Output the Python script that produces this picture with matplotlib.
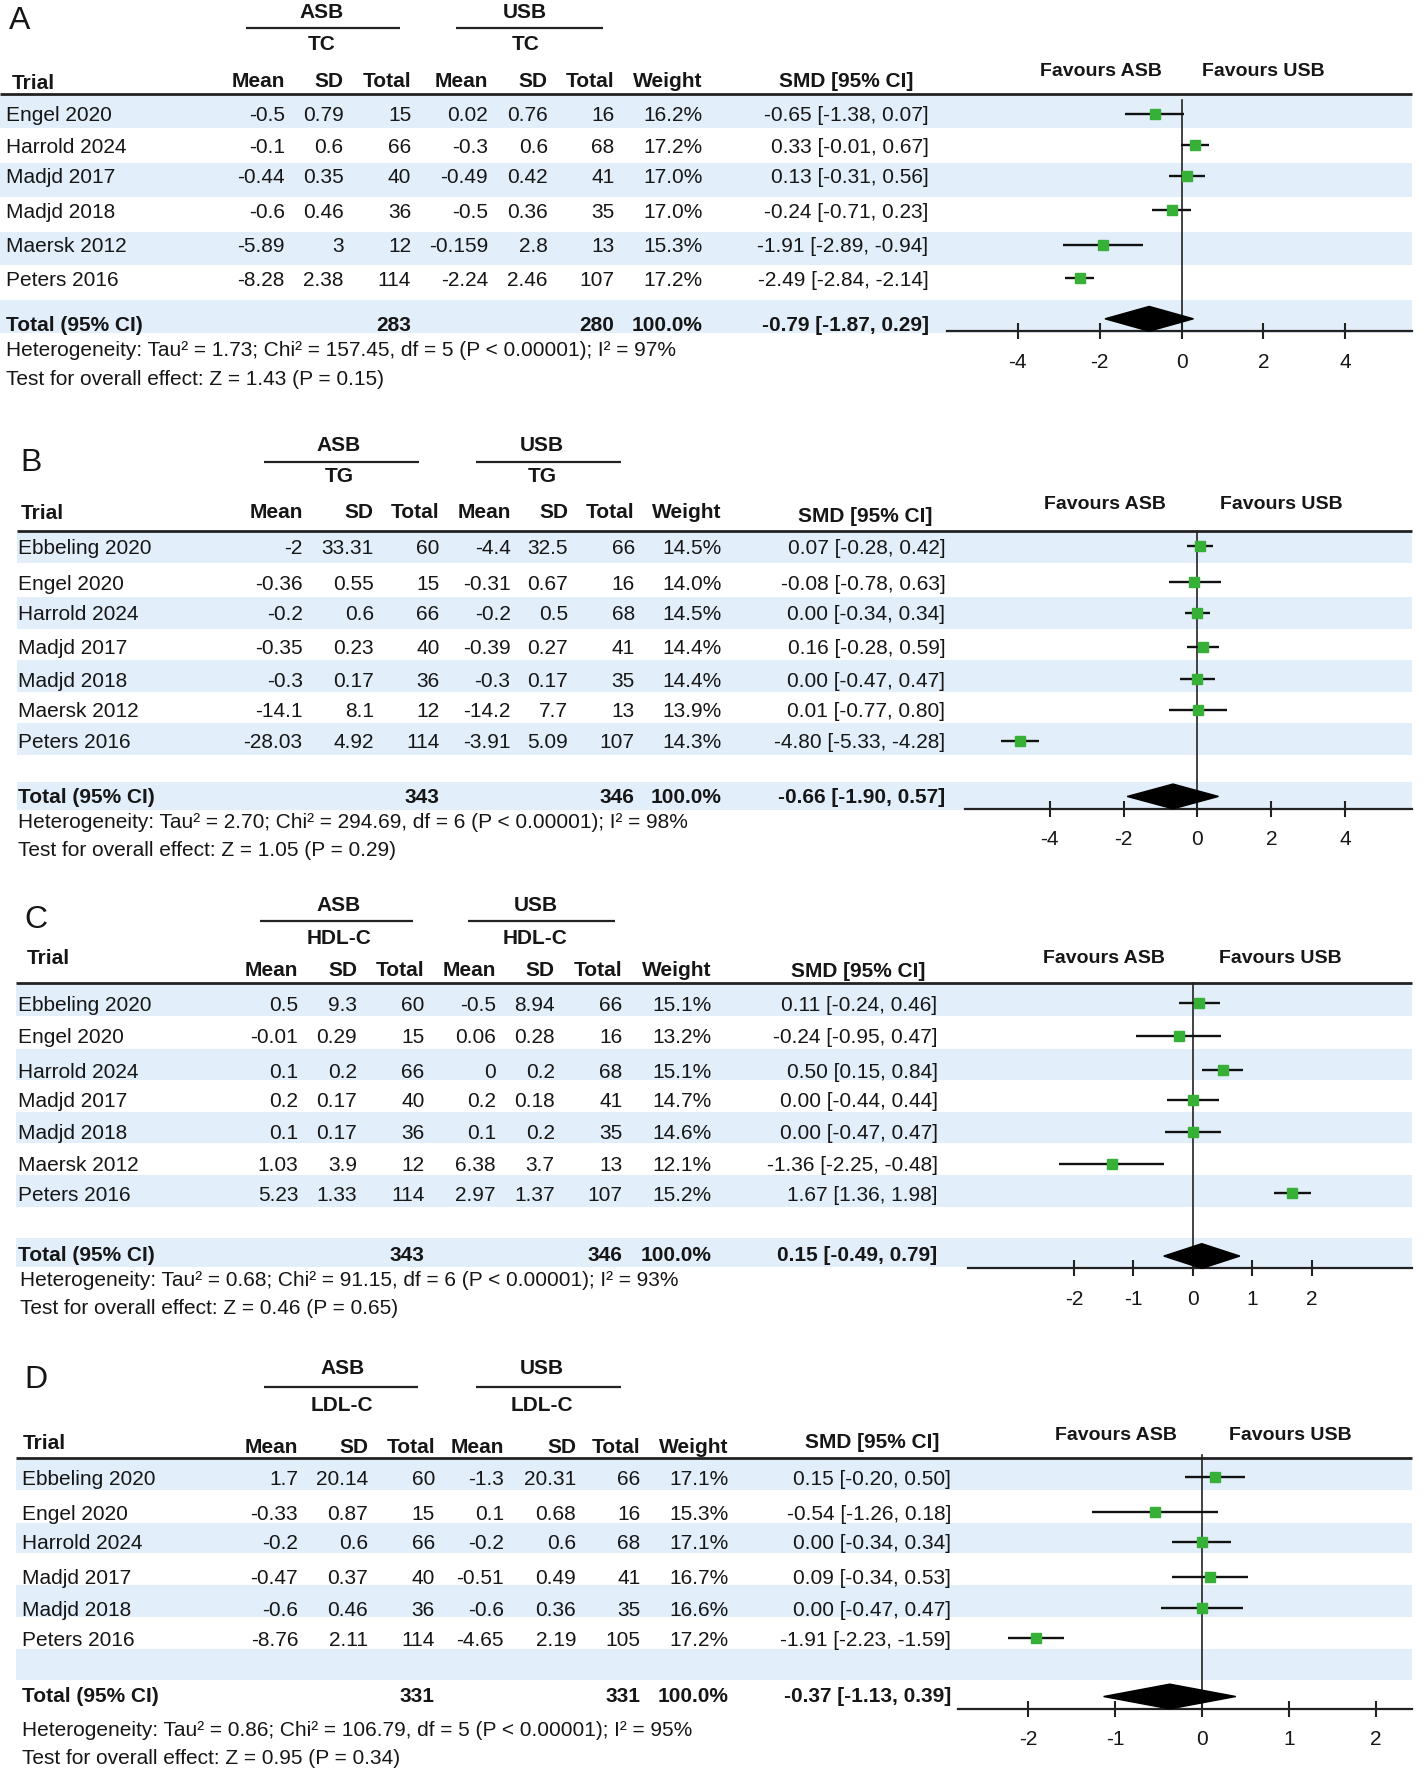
import matplotlib
matplotlib.use('Agg')
import matplotlib.pyplot as plt
from matplotlib.patches import Polygon, Rectangle

plt.rcParams['font.family'] = ['Liberation Sans', 'DejaVu Sans']

# ---------------- DATA ----------------
# Panel A: TC
tc_trials = ["Engel 2020", "Harrold 2024", "Madjd 2017", "Madjd 2018", "Maersk 2012", "Peters 2016"]
tc_asb_mean = [-0.5, -0.1, -0.44, -0.6, -5.89, -8.28]
tc_asb_sd = [0.79, 0.6, 0.35, 0.46, 3, 2.38]
tc_asb_n = [15, 66, 40, 36, 12, 114]
tc_usb_mean = [0.02, -0.3, -0.49, -0.5, -0.159, -2.24]
tc_usb_sd = [0.76, 0.6, 0.42, 0.36, 2.8, 2.46]
tc_usb_n = [16, 68, 41, 35, 13, 107]
tc_weight = [16.2, 17.2, 17.0, 17.0, 15.3, 17.2]
tc_smd = [-0.65, 0.33, 0.13, -0.24, -1.91, -2.49]
tc_lo = [-1.38, -0.01, -0.31, -0.71, -2.89, -2.84]
tc_hi = [0.07, 0.67, 0.56, 0.23, -0.94, -2.14]
tc_total = [283, 280]
tc_overall = [-0.79, -1.87, 0.29]
tc_het = "Heterogeneity: Tau² = 1.73; Chi² = 157.45, df = 5 (P < 0.00001); I² = 97%"
tc_test = "Test for overall effect: Z = 1.43 (P = 0.15)"

# Panel B: TG
tg_trials = ["Ebbeling 2020", "Engel 2020", "Harrold 2024", "Madjd 2017", "Madjd 2018", "Maersk 2012", "Peters 2016"]
tg_asb_mean = [-2, -0.36, -0.2, -0.35, -0.3, -14.1, -28.03]
tg_asb_sd = [33.31, 0.55, 0.6, 0.23, 0.17, 8.1, 4.92]
tg_asb_n = [60, 15, 66, 40, 36, 12, 114]
tg_usb_mean = [-4.4, -0.31, -0.2, -0.39, -0.3, -14.2, -3.91]
tg_usb_sd = [32.5, 0.67, 0.5, 0.27, 0.17, 7.7, 5.09]
tg_usb_n = [66, 16, 68, 41, 35, 13, 107]
tg_weight = [14.5, 14.0, 14.5, 14.4, 14.4, 13.9, 14.3]
tg_smd = [0.07, -0.08, 0.00, 0.16, 0.00, 0.01, -4.80]
tg_lo = [-0.28, -0.78, -0.34, -0.28, -0.47, -0.77, -5.33]
tg_hi = [0.42, 0.63, 0.34, 0.59, 0.47, 0.80, -4.28]
tg_total = [343, 346]
tg_overall = [-0.66, -1.90, 0.57]
tg_het = "Heterogeneity: Tau² = 2.70; Chi² = 294.69, df = 6 (P < 0.00001); I² = 98%"
tg_test = "Test for overall effect: Z = 1.05 (P = 0.29)"

# Panel C: HDL-C
hdl_trials = ["Ebbeling 2020", "Engel 2020", "Harrold 2024", "Madjd 2017", "Madjd 2018", "Maersk 2012", "Peters 2016"]
hdl_asb_mean = [0.5, -0.01, 0.1, 0.2, 0.1, 1.03, 5.23]
hdl_asb_sd = [9.3, 0.29, 0.2, 0.17, 0.17, 3.9, 1.33]
hdl_asb_n = [60, 15, 66, 40, 36, 12, 114]
hdl_usb_mean = [-0.5, 0.06, 0, 0.2, 0.1, 6.38, 2.97]
hdl_usb_sd = [8.94, 0.28, 0.2, 0.18, 0.2, 3.7, 1.37]
hdl_usb_n = [66, 16, 68, 41, 35, 13, 107]
hdl_weight = [15.1, 13.2, 15.1, 14.7, 14.6, 12.1, 15.2]
hdl_smd = [0.11, -0.24, 0.50, 0.00, 0.00, -1.36, 1.67]
hdl_lo = [-0.24, -0.95, 0.15, -0.44, -0.47, -2.25, 1.36]
hdl_hi = [0.46, 0.47, 0.84, 0.44, 0.47, -0.48, 1.98]
hdl_total = [343, 346]
hdl_overall = [0.15, -0.49, 0.79]
hdl_het = "Heterogeneity: Tau² = 0.68; Chi² = 91.15, df = 6 (P < 0.00001); I² = 93%"
hdl_test = "Test for overall effect: Z = 0.46 (P = 0.65)"

# Panel D: LDL-C
ldl_trials = ["Ebbeling 2020", "Engel 2020", "Harrold 2024", "Madjd 2017", "Madjd 2018", "Peters 2016"]
ldl_asb_mean = [1.7, -0.33, -0.2, -0.47, -0.6, -8.76]
ldl_asb_sd = [20.14, 0.87, 0.6, 0.37, 0.46, 2.11]
ldl_asb_n = [60, 15, 66, 40, 36, 114]
ldl_usb_mean = [-1.3, 0.1, -0.2, -0.51, -0.6, -4.65]
ldl_usb_sd = [20.31, 0.68, 0.6, 0.49, 0.36, 2.19]
ldl_usb_n = [66, 16, 68, 41, 35, 105]
ldl_weight = [17.1, 15.3, 17.1, 16.7, 16.6, 17.2]
ldl_smd = [0.15, -0.54, 0.00, 0.09, 0.00, -1.91]
ldl_lo = [-0.20, -1.26, -0.34, -0.34, -0.47, -2.23]
ldl_hi = [0.50, 0.18, 0.34, 0.53, 0.47, -1.59]
ldl_total = [331, 331]
ldl_overall = [-0.37, -1.13, 0.39]
ldl_het = "Heterogeneity: Tau² = 0.86; Chi² = 106.79, df = 5 (P < 0.00001); I² = 95%"
ldl_test = "Test for overall effect: Z = 0.95 (P = 0.34)"

panel_letters = ["A", "B", "C", "D"]
outcomes = ["TC", "TG", "HDL-C", "LDL-C"]
ticks_wide = [-4, -2, 0, 2, 4]
ticks_narrow = [-2, -1, 0, 1, 2]
col_headers = ["Mean", "SD", "Total", "Mean", "SD", "Total", "Weight"]

# ---------------- LAYOUT (in reference-layout units) ----------------
W, H = 1261.5, 1573.0
RIGHT = 1250.0
BAND = '#e2eef9'
GREEN = '#36b036'
TXT = '#161616'

layouts = [
    dict(letter=(8, 16), grp_y=9, line_y=25, sub_y=38, asb=(285, 218, 354), usb=(465, 404, 534),
         hdr_y=71, trial=(10, 72), cols=[252, 304, 364, 432, 485, 544, 622], smd_hdr=(749, 71), smd_r=822,
         fav_y=61, fav_x=(975, 1118), rule=(83, 0), rows=[101, 129, 156, 186.5, 217.5, 247],
         total_y=287, het_y=309, test_y=335, text_x=5, het_x=5,
         bands=[(84, 114), (145, 175), (206, 235), (266, 296)], band_x0=0,
         zero=1046, scale=36.25, axis_y=294, axis_x0=838, vtop=89, ticks=ticks_wide),
    dict(letter=(18, 408), grp_y=393.5, line_y=410, sub_y=421.7, asb=(300, 234, 371), usb=(480, 421, 550),
         hdr_y=453, trial=(18, 454), cols=[268, 331, 389, 452, 503, 562, 639], smd_hdr=(766, 457), smd_r=837,
         fav_y=446, fav_x=(978, 1134), rule=(471, 15), rows=[485, 517, 544, 574, 603, 630, 657.5],
         total_y=706, het_y=728, test_y=753, text_x=16, het_x=16,
         bands=[(472, 500), (530, 558), (586, 614), (642, 670), (694, 719)], band_x0=15,
         zero=1060, scale=32.7, axis_y=718, axis_x0=854, vtop=472, ticks=ticks_wide),
    dict(letter=(22, 814), grp_y=802, line_y=818, sub_y=831.5, asb=(300, 230, 366), usb=(474, 414, 544),
         hdr_y=860, trial=(24, 849), cols=[264, 316, 376, 439, 491, 551, 630], smd_hdr=(760, 861), smd_r=830,
         fav_y=849, fav_x=(977, 1133), rule=(873, 14),
         rows=[890.7, 919.4, 950, 976.5, 1004.6, 1033.3, 1059.3],
         total_y=1112.6, het_y=1134.8, test_y=1160, text_x=15.5, het_x=18,
         bands=[(874.4, 901.6), (931.2, 958.7), (986.9, 1014.4), (1043, 1071.2), (1099.3, 1124.5)], band_x0=14,
         zero=1056, scale=52.6, axis_y=1126, axis_x0=857, vtop=873, ticks=ticks_narrow),
    dict(letter=(22, 1222), grp_y=1213, line_y=1231, sub_y=1246, asb=(303, 234, 370), usb=(480, 421, 550),
         hdr_y=1283, trial=(20, 1280), cols=[264, 326, 385, 446, 510, 567, 645], smd_hdr=(772, 1279), smd_r=842,
         fav_y=1272, fav_x=(988, 1142), rule=(1294, 14),
         rows=[1311.5, 1342.5, 1368.5, 1399.6, 1427.7, 1454.3],
         total_y=1504.7, het_y=1534.3, test_y=1559.4, text_x=19.6, het_x=19.6,
         bands=[(1295.5, 1322.7), (1352.3, 1379), (1407, 1435.2), (1464.1, 1491.4)], band_x0=14,
         zero=1064, scale=77, axis_y=1517, axis_x0=848, vtop=1292, ticks=ticks_narrow),
]

datasets = [
    (tc_trials, tc_asb_mean, tc_asb_sd, tc_asb_n, tc_usb_mean, tc_usb_sd, tc_usb_n, tc_weight,
     tc_smd, tc_lo, tc_hi, tc_total, tc_overall, tc_het, tc_test),
    (tg_trials, tg_asb_mean, tg_asb_sd, tg_asb_n, tg_usb_mean, tg_usb_sd, tg_usb_n, tg_weight,
     tg_smd, tg_lo, tg_hi, tg_total, tg_overall, tg_het, tg_test),
    (hdl_trials, hdl_asb_mean, hdl_asb_sd, hdl_asb_n, hdl_usb_mean, hdl_usb_sd, hdl_usb_n, hdl_weight,
     hdl_smd, hdl_lo, hdl_hi, hdl_total, hdl_overall, hdl_het, hdl_test),
    (ldl_trials, ldl_asb_mean, ldl_asb_sd, ldl_asb_n, ldl_usb_mean, ldl_usb_sd, ldl_usb_n, ldl_weight,
     ldl_smd, ldl_lo, ldl_hi, ldl_total, ldl_overall, ldl_het, ldl_test),
]

FS = 15
OFF = 6.6  # half cap height in layout units

fig = plt.figure(figsize=(14.25, 17.72), dpi=100)
bg = fig.add_axes([0, 0, 1, 1])
bg.set_xlim(0, W)
bg.set_ylim(H, 0)
bg.axis('off')


def txt(x, y, s, ha='left', bold=False, size=FS, off=OFF):
    bg.text(x, y + off * size / FS, s, ha=ha, va='baseline', fontsize=size,
            fontweight='bold' if bold else 'normal', color=TXT)


def fmt(v):
    return f"{v:g}"


def fsmd(s, lo, hi):
    return f"{s:.2f} [{lo:.2f}, {hi:.2f}]"


for k, (L, D) in enumerate(zip(layouts, datasets)):
    (trials, am, asd, an, um, usd, un, wt, smd, lo, hi, tot, ov, het, test) = D

    # bands
    for (y0, y1) in L['bands']:
        bg.add_patch(Rectangle((L['band_x0'], y0), RIGHT - L['band_x0'], y1 - y0,
                               facecolor=BAND, edgecolor='none', zorder=0))
    # header rule
    bg.plot([L['rule'][1], RIGHT], [L['rule'][0]] * 2, color='#222222', lw=2.0, zorder=2,
            solid_capstyle='butt')

    # panel letter
    txt(L['letter'][0], L['letter'][1], panel_letters[k], size=23)

    # group headers
    for name, (cx, x0, x1) in (("ASB", L['asb']), ("USB", L['usb'])):
        txt(cx, L['grp_y'], name, ha='center', bold=True)
        bg.plot([x0, x1], [L['line_y']] * 2, color='#222222', lw=1.6, solid_capstyle='butt')
        txt(cx, L['sub_y'], outcomes[k], ha='center', bold=True)

    # column headers
    txt(L['trial'][0], L['trial'][1], "Trial", bold=True)
    for xr, h in zip(L['cols'], col_headers):
        txt(xr, L['hdr_y'], h, ha='right', bold=True)
    txt(L['smd_hdr'][0], L['smd_hdr'][1], "SMD [95% CI]", ha='center', bold=True)
    txt(L['fav_x'][0], L['fav_y'], "Favours ASB", ha='center', bold=True, size=14)
    txt(L['fav_x'][1], L['fav_y'], "Favours USB", ha='center', bold=True, size=14)

    # study rows
    c = L['cols']
    for i, y in enumerate(L['rows']):
        txt(L['text_x'], y, trials[i])
        txt(c[0], y, fmt(am[i]), ha='right')
        txt(c[1], y, fmt(asd[i]), ha='right')
        txt(c[2], y, f"{an[i]}", ha='right')
        txt(c[3], y, fmt(um[i]), ha='right')
        txt(c[4], y, fmt(usd[i]), ha='right')
        txt(c[5], y, f"{un[i]}", ha='right')
        txt(c[6], y, f"{wt[i]:.1f}%", ha='right')
        txt(L['smd_r'], y, fsmd(smd[i], lo[i], hi[i]), ha='right')

    # total row
    ty = L['total_y']
    txt(L['text_x'], ty, "Total (95% CI)", bold=True)
    txt(c[2], ty, f"{tot[0]}", ha='right', bold=True)
    txt(c[5], ty, f"{tot[1]}", ha='right', bold=True)
    txt(c[6], ty, "100.0%", ha='right', bold=True)
    txt(L['smd_r'], ty, fsmd(ov[0], ov[1], ov[2]), ha='right', bold=True)
    txt(L['het_x'], L['het_y'], het)
    txt(L['het_x'], L['test_y'], test)

    # forest axes, mapped onto layout units
    ax0 = L['axis_x0']
    ay = L['axis_y']
    top = L['rule'][0]
    ax = fig.add_axes([ax0 / W, 1 - ay / H, (RIGHT - ax0) / W, (ay - top) / H])
    ax.set_facecolor('none')
    ax.set_xlim((ax0 - L['zero']) / L['scale'], (RIGHT - L['zero']) / L['scale'])
    ax.set_ylim(ay, top)
    for s in ('top', 'left', 'right'):
        ax.spines[s].set_visible(False)
    ax.spines['bottom'].set_linewidth(1.6)
    ax.spines['bottom'].set_color('#222222')
    ax.set_yticks([])
    ax.set_xticks(L['ticks'])
    ax.set_xticklabels([f"{t}" for t in L['ticks']])
    ax.tick_params(axis='x', direction='inout', length=11, width=1.5, labelsize=FS, pad=10,
                   colors='#222222', labelcolor=TXT)

    # zero line
    ax.plot([0, 0], [ay, L['vtop']], color='#222222', lw=1.2, clip_on=False, zorder=2)
    # CIs and point estimates
    ax.hlines(L['rows'], lo, hi, color='#111111', lw=1.7, zorder=3, clip_on=False)
    ax.plot(smd, L['rows'], 's', color=GREEN, mec=GREEN, ms=6.5, zorder=4, clip_on=False)
    # diamond
    dy = ay - 11
    hh = 11
    ax.add_patch(Polygon([(ov[1], dy), (ov[0], dy - hh), (ov[2], dy), (ov[0], dy + hh)],
                         closed=True, facecolor='black', edgecolor='black', zorder=5, clip_on=False))

fig.savefig('out.png', dpi=100)
